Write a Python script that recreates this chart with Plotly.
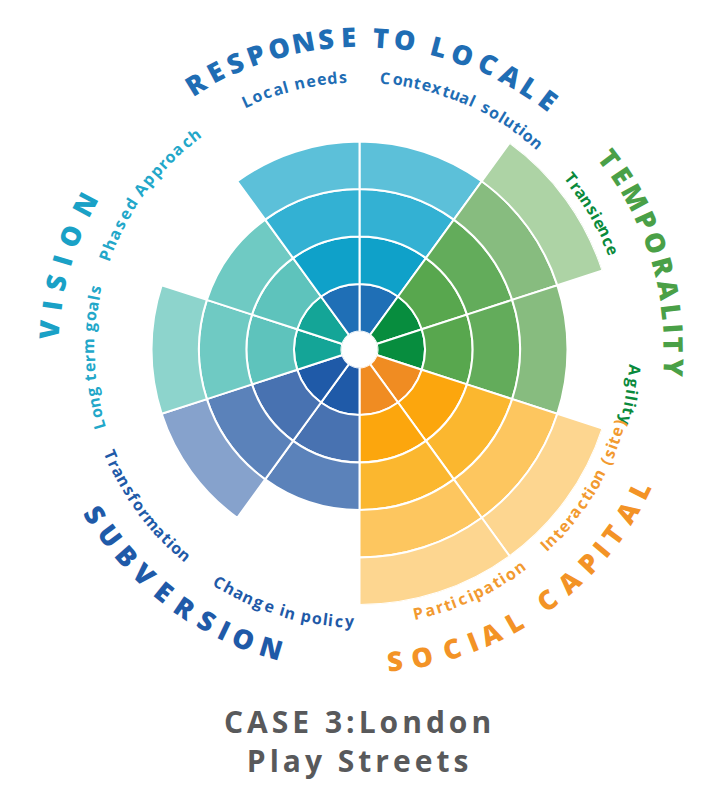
import math
import plotly.graph_objects as go

# ---------------- data ----------------
categories = ["Contextual solution", "Transience", "Agility", "Interaction (site)",
              "Participation", "Change in policy", "Transformation", "Long term goals",
              "Phased Approach", "Local needs"]
groups = ["RESPONSE TO LOCALE", "TEMPORALITY", "TEMPORALITY", "SOCIAL CAPITAL",
          "SOCIAL CAPITAL", "SUBVERSION", "SUBVERSION", "VISION", "VISION",
          "RESPONSE TO LOCALE"]
levels = [4, 5, 4, 5, 5, 3, 4, 4, 3, 4]
title_lines = ["CASE 3:London", "Play Streets"]

# ---------------- styles ----------------
shades = {
    "RESPONSE TO LOCALE": ["#1f6fb6", "#0fa1c9", "#33b1d3", "#5cc0d9", "#8fd3e6"],
    "TEMPORALITY": ["#078d3e", "#58a74e", "#63ac5b", "#87bc7f", "#add3a5"],
    "SOCIAL CAPITAL": ["#f08c22", "#fca60d", "#fbb72f", "#fdc65f", "#fdd690"],
    "SUBVERSION": ["#1f5aa8", "#4872b1", "#5b82ba", "#86a2cc", "#a9bddc"],
    "VISION": ["#14a597", "#5ec3bc", "#6fcac3", "#8dd4cc", "#b0e2dc"],
}
head_color = {"RESPONSE TO LOCALE": "#1f6db4", "TEMPORALITY": "#4aa047",
              "SOCIAL CAPITAL": "#f39326", "SUBVERSION": "#1f5aa8", "VISION": "#1aa1c6"}
sub_color = {"RESPONSE TO LOCALE": "#1f6db4", "TEMPORALITY": "#0a8a3c",
             "SOCIAL CAPITAL": "#f29a30", "SUBVERSION": "#1f5aa8", "VISION": "#22a7c9"}

OFF = 8                      # default page margin around the figure
W, H = 703 - OFF, 796 - OFF  # figure size
CX, CY = 359.5 - OFF, 349.5 - OFF
R_OUT = 255.5
R_HOLE = 18.0
N_MAX = 5

theta = [18 + 36 * i for i in range(len(categories))]

fig = go.Figure()
for k in range(1, N_MAX + 1):
    th, rr, bb, cc, tx = [], [], [], [], []
    for i, lv in enumerate(levels):
        if lv >= k:
            th.append(theta[i]); rr.append(1); bb.append(k - 1)
            cc.append(shades[groups[i]][k - 1]); tx.append(categories[i])
    fig.add_trace(go.Barpolar(
        theta=th, r=rr, base=bb, width=[36] * len(th), text=tx,
        marker=dict(color=cc, line=dict(color="white", width=2)),
        hoverinfo="text", showlegend=False))

# ---------------- curved labels ----------------
def cw(ch):
    if ch in "il.:'|!": return 0.30
    if ch in "jI": return 0.33
    if ch in "()": return 0.36
    if ch == " ": return 0.30
    if ch in "tf": return 0.40
    if ch in "r": return 0.42
    if ch in "mwMW": return 0.85
    if ch in "OCGQD": return 0.76
    if ch in "ANRUVHXYK": return 0.68
    if ch.isupper(): return 0.62
    return 0.57

# (text, colour-group, start angle, end angle, radius, font size, orientation, heading)
labels = [
    ("RESPONSE TO LOCALE", "RESPONSE TO LOCALE", -31.7, 37.1, 313, 27, "top", True),
    ("TEMPORALITY", "TEMPORALITY", 52.6, 93.3, 315, 27, "top", True),
    ("SOCIAL CAPITAL", "SOCIAL CAPITAL", 173.5, 116.6, 313, 27, "bottom", True),
    ("SUBVERSION", "SUBVERSION", 238.0, 196.5, 311, 27, "bottom", True),
    ("VISION", "VISION", 273.6, 298.0, 311, 27, "top", True),
    ("Local needs", "RESPONSE TO LOCALE", -24.4, -3.5, 273, 16, "top", False),
    ("Contextual solution", "RESPONSE TO LOCALE", 5.4, 40.7, 273, 16, "top", False),
    ("Transience", "TEMPORALITY", 51.0, 68.5, 272, 16, "top", False),
    ("Agility", "TEMPORALITY", 94.3, 105.0, 276, 16, "top", False),
    ("Interaction (site)", "SOCIAL CAPITAL", 136.7, 105.8, 270, 16, "bottom", False),
    ("Participation", "SOCIAL CAPITAL", 167.4, 143.7, 270, 16, "bottom", False),
    ("Change in policy", "SUBVERSION", 211.2, 182.0, 272, 16, "bottom", False),
    ("Transformation", "SUBVERSION", 247.0, 220.3, 270, 16, "bottom", False),
    ("Long term goals", "VISION", 254.0, 282.8, 271, 16, "top", False),
    ("Phased Approach", "VISION", 290.4, 322.5, 271, 16, "top", False),
]

annotations = []
for text, grp, a0, a1, rad, size, mode, head in labels:
    ws = [cw(c) for c in text]
    centers = []
    acc = 0
    for w in ws:
        centers.append(acc + w / 2); acc += w
    span = centers[-1] - centers[0]
    color = head_color[grp] if head else sub_color[grp]
    for ch, c in zip(text, centers):
        if ch == " ":
            continue
        f = (c - centers[0]) / span
        a = a0 + f * (a1 - a0)
        ar = math.radians(a)
        px = CX + rad * math.sin(ar)
        py = CY - rad * math.cos(ar)
        if mode == "top":
            ang = ((a + 180) % 360) - 180
        else:
            ang = a - 180
        annotations.append(dict(
            x=px / W, y=1 - py / H, xref="paper", yref="paper", text=ch,
            showarrow=False, textangle=ang, xanchor="center", yanchor="middle",
            font=dict(family="Open Sans", size=size, color=color,
                      weight=800 if head else 700)))

title_text = "<br>".join('<span style="letter-spacing:4px">' + s + '</span>'
                         for s in title_lines)
annotations.append(dict(
    x=CX / W, y=1 - (741 - OFF) / H, xref="paper", yref="paper",
    text=title_text, showarrow=False, xanchor="center", yanchor="middle",
    align="center",
    font=dict(family="Open Sans", size=30, color="#58595b", weight=700)))

fig.update_layout(
    width=W, height=H, margin=dict(l=0, r=0, t=0, b=0),
    paper_bgcolor="white", plot_bgcolor="white",
    annotations=annotations,
    polar=dict(
        domain=dict(x=[(CX - R_OUT) / W, (CX + R_OUT) / W],
                    y=[1 - (CY + R_OUT) / H, 1 - (CY - R_OUT) / H]),
        hole=R_HOLE / R_OUT,
        bgcolor="white",
        radialaxis=dict(range=[0, N_MAX], visible=False, showgrid=False),
        angularaxis=dict(rotation=90, direction="clockwise", visible=False,
                         showgrid=False),
        barmode="overlay",
    ),
)

fig.write_html("out.html")
